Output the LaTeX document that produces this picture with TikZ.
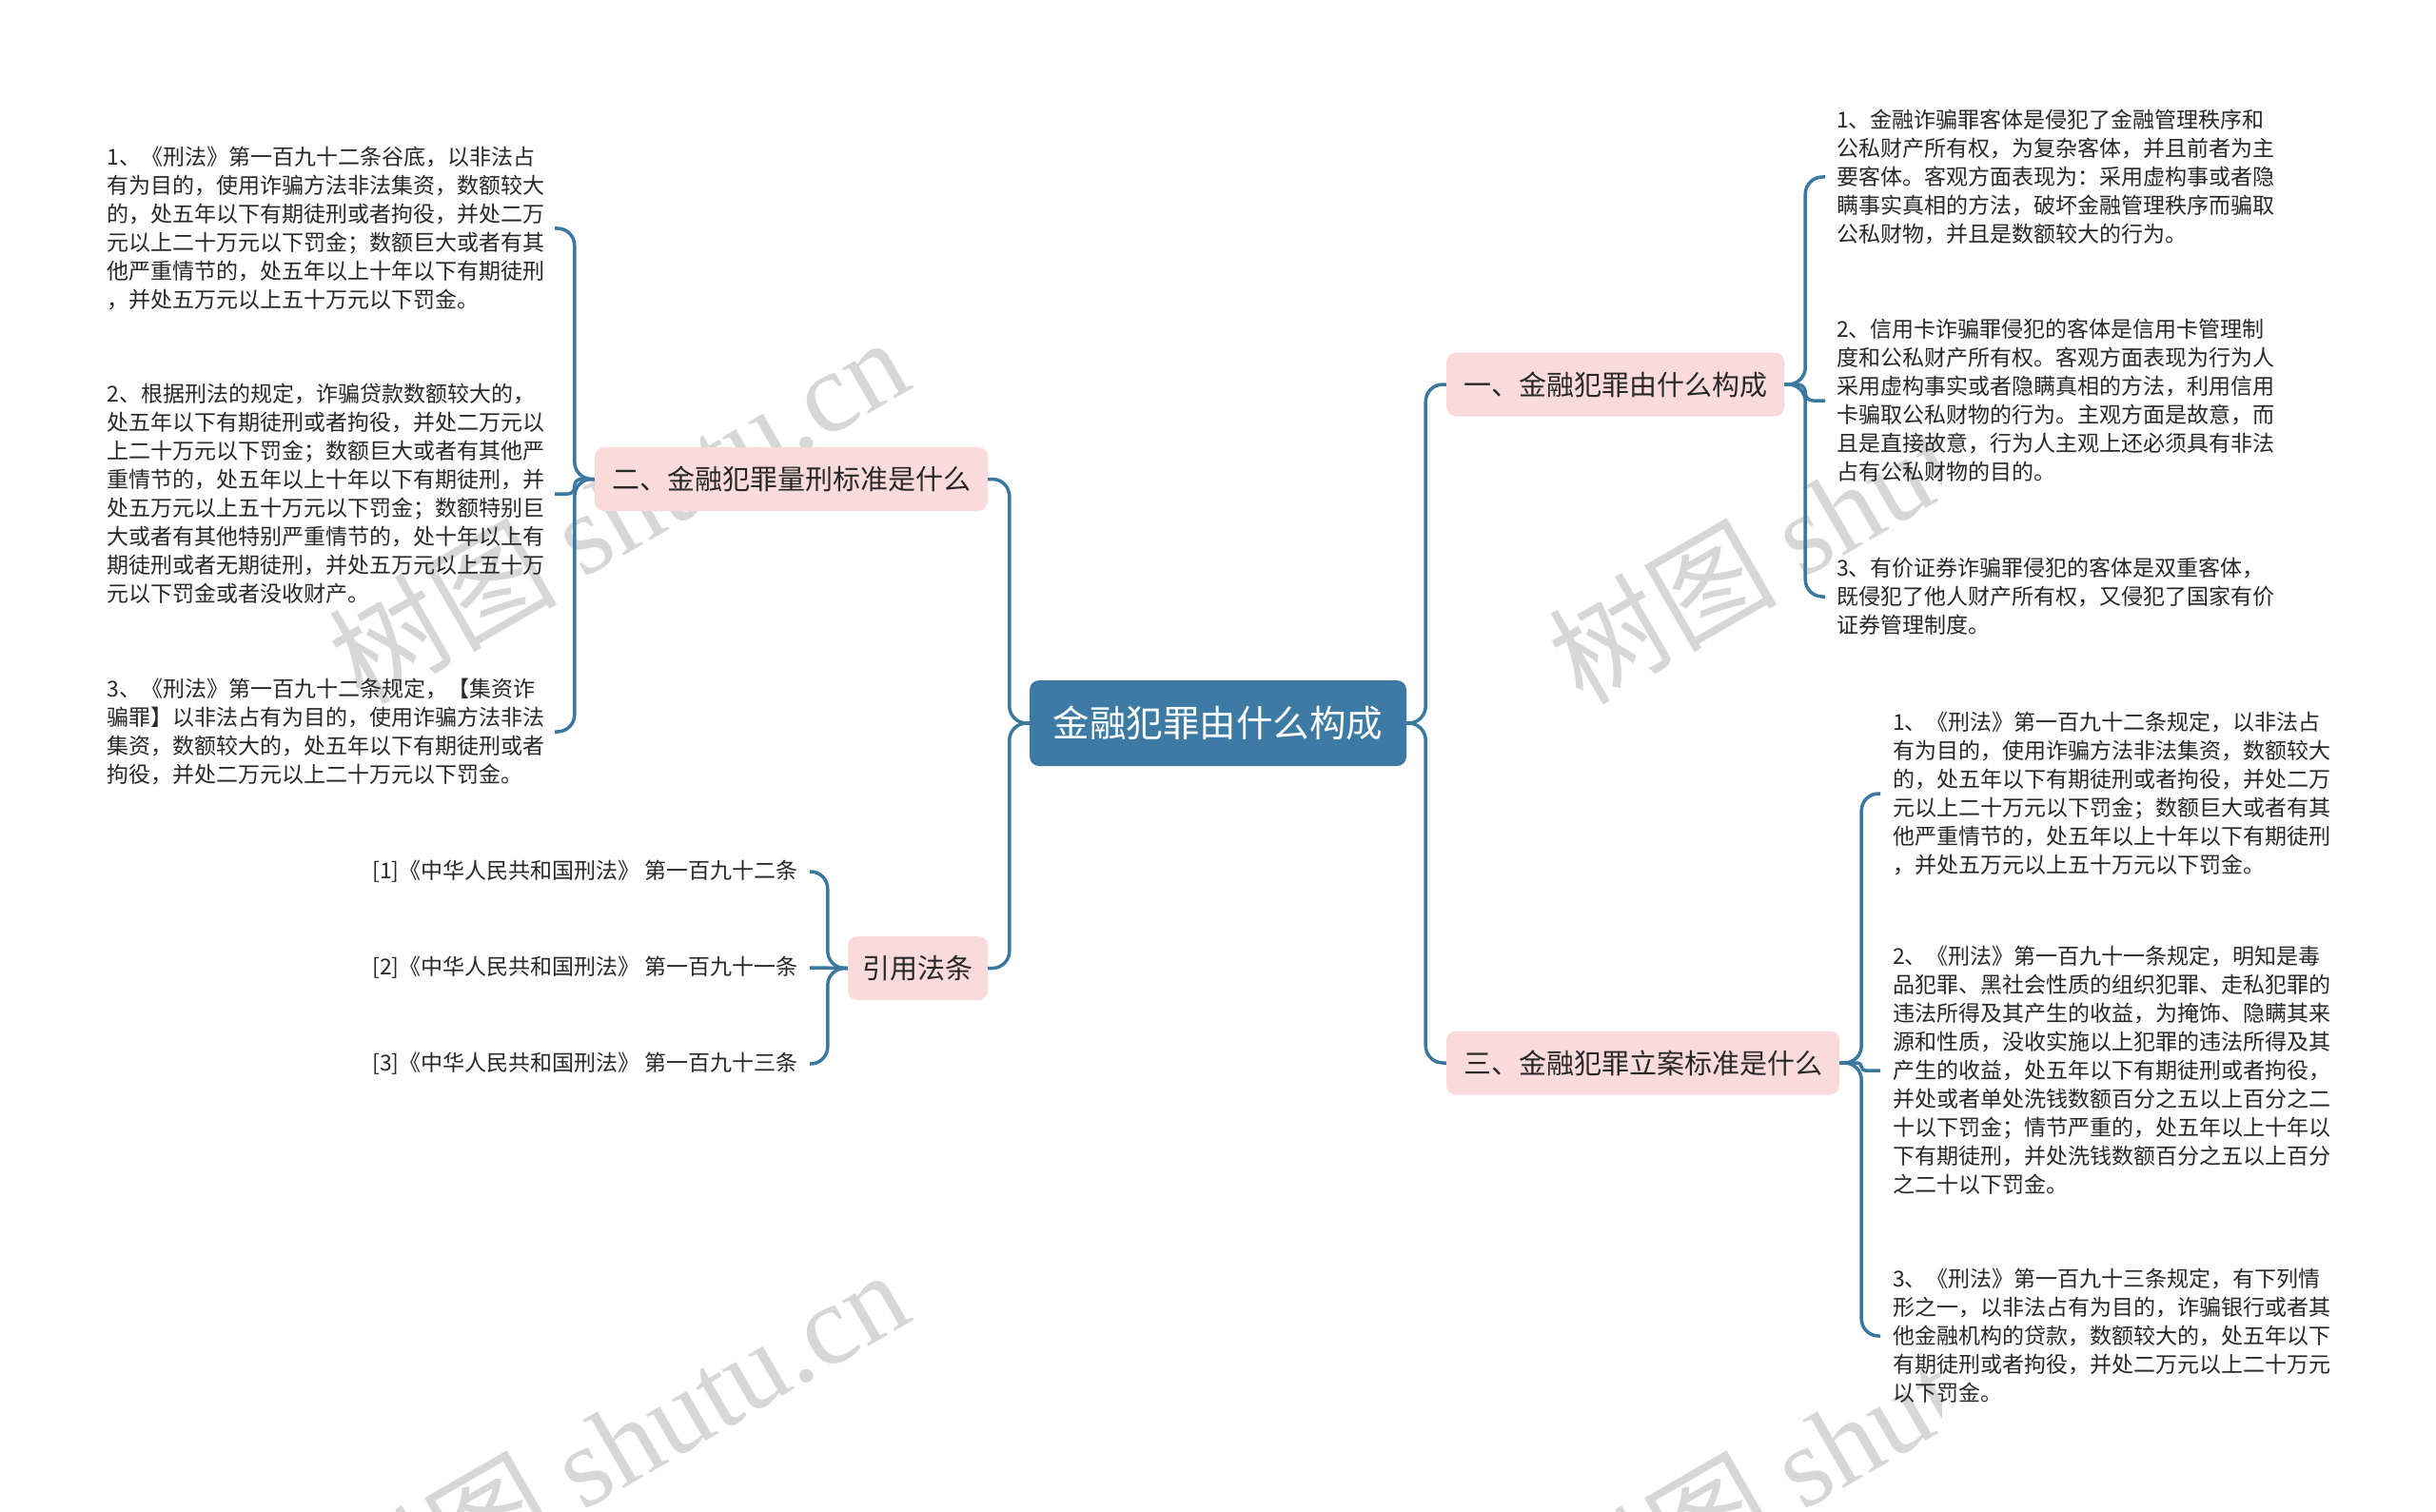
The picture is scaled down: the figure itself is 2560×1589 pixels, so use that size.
\documentclass[tikz,border=0pt]{standalone}
\usepackage{fontspec}
\setmainfont{Noto Sans CJK SC}
\newfontfamily\wmfont{Liberation Serif}
\definecolor{rootc}{RGB}{62,123,164}
\definecolor{linec}{RGB}{58,120,160}
\definecolor{pinkc}{RGB}{250,219,219}
\definecolor{txtc}{RGB}{40,40,40}
\definecolor{wmc}{RGB}{215,215,215}
\tikzset{
  conn/.style={draw=linec, line width=3.5pt, rounded corners=18pt},
  rootbox/.style={fill=rootc, rounded corners=10pt, text=white, font=\fontsize{38.5}{46}\selectfont,
    minimum width=396pt, minimum height=90pt, inner sep=0pt},
  branchbox/.style={fill=pinkc, rounded corners=10pt, text=txtc, font=\fontsize{29}{35}\selectfont,
    minimum height=67pt, inner sep=0pt},
  leafr/.style={anchor=west, align=left, inner xsep=12pt, inner ysep=0pt, text=txtc,
    font=\fontsize{23}{30}\selectfont},
  leafl/.style={anchor=east, align=left, inner xsep=10pt, inner ysep=0pt, text=txtc,
    font=\fontsize{23}{30}\selectfont},
  citebox/.style={anchor=east, inner xsep=12pt, inner ysep=0pt, text=txtc,
    font=\fontsize{23}{30}\selectfont},
  wm/.style={rotate=30, text=wmc, inner sep=0pt, font=\fontsize{120}{120}\selectfont}
}
\begin{document}
\begin{tikzpicture}[x=1pt,y=-1pt]
\useasboundingbox (0,0) rectangle (2560,1589);
\fill[white] (0,0) rectangle (2560,1589);
% watermarks
\begin{scope}
\clip (0,0) rectangle (2560,1589);
\node[wm] (w1) at (649,535) {树图 {\wmfont shutu.cn}};
\node[wm] (w3) at (649,1515) {树图 {\wmfont shutu.cn}};
\end{scope}
\begin{scope}
\clip (0,0) rectangle (2040,1589);
\node[wm] (w2) at (1931,535) {树图 {\wmfont shutu.cn}};
\node[wm] (w4) at (1931,1515) {树图 {\wmfont shutu.cn}};
\end{scope}

% main nodes
\node[rootbox] (root) at (1280,760) {金融犯罪由什么构成};
\node[branchbox, minimum width=355pt] (b1) at (1697.5,404) {一、金融犯罪由什么构成};
\node[branchbox, minimum width=413pt] (b3) at (1726.5,1117) {三、金融犯罪立案标准是什么};
\node[branchbox, minimum width=413pt] (b2) at (831.5,503.5) {二、金融犯罪量刑标准是什么};
\node[branchbox, minimum width=147pt] (b4) at (964.5,1017.5) {引用法条};

% right leaves of b1
\node[leafr] (r11) at (1918,186) {1、金融诈骗罪客体是侵犯了金融管理秩序和\\公私财产所有权，为复杂客体，并且前者为主\\要客体。客观方面表现为：采用虚构事或者隐\\瞒事实真相的方法，破坏金融管理秩序而骗取\\公私财物，并且是数额较大的行为。};
\node[leafr] (r12) at (1918,421) {2、信用卡诈骗罪侵犯的客体是信用卡管理制\\度和公私财产所有权。客观方面表现为行为人\\采用虚构事实或者隐瞒真相的方法，利用信用\\卡骗取公私财物的行为。主观方面是故意，而\\且是直接故意，行为人主观上还必须具有非法\\占有公私财物的目的。};
\node[leafr] (r13) at (1918,627) {3、有价证券诈骗罪侵犯的客体是双重客体，\\既侵犯了他人财产所有权，又侵犯了国家有价\\证券管理制度。};

% right leaves of b3
\node[leafr, inner xsep=13pt] (r31) at (1976,834) {1、《刑法》第一百九十二条规定，以非法占\\有为目的，使用诈骗方法非法集资，数额较大\\的，处五年以下有期徒刑或者拘役，并处二万\\元以上二十万元以下罚金；数额巨大或者有其\\他严重情节的，处五年以上十年以下有期徒刑\\，并处五万元以上五十万元以下罚金。};
\node[leafr, inner xsep=13pt] (r32) at (1976,1125) {2、《刑法》第一百九十一条规定，明知是毒\\品犯罪、黑社会性质的组织犯罪、走私犯罪的\\违法所得及其产生的收益，为掩饰、隐瞒其来\\源和性质，没收实施以上犯罪的违法所得及其\\产生的收益，处五年以下有期徒刑或者拘役，\\并处或者单处洗钱数额百分之五以上百分之二\\十以下罚金；情节严重的，处五年以上十年以\\下有期徒刑，并处洗钱数额百分之五以上百分\\之二十以下罚金。};
\node[leafr, inner xsep=13pt] (r33) at (1976,1404) {3、《刑法》第一百九十三条规定，有下列情\\形之一，以非法占有为目的，诈骗银行或者其\\他金融机构的贷款，数额较大的，处五年以下\\有期徒刑或者拘役，并处二万元以上二十万元\\以下罚金。};

% left leaves of b2
\node[leafl] (l21) at (583,240) {1、《刑法》第一百九十二条谷底，以非法占\\有为目的，使用诈骗方法非法集资，数额较大\\的，处五年以下有期徒刑或者拘役，并处二万\\元以上二十万元以下罚金；数额巨大或者有其\\他严重情节的，处五年以上十年以下有期徒刑\\，并处五万元以上五十万元以下罚金。};
\node[leafl] (l22) at (583,519) {2、根据刑法的规定，诈骗贷款数额较大的，\\处五年以下有期徒刑或者拘役，并处二万元以\\上二十万元以下罚金；数额巨大或者有其他严\\重情节的，处五年以上十年以下有期徒刑，并\\处五万元以上五十万元以下罚金；数额特别巨\\大或者有其他特别严重情节的，处十年以上有\\期徒刑或者无期徒刑，并处五万元以上五十万\\元以下罚金或者没收财产。};
\node[leafl] (l23) at (583,769) {3、《刑法》第一百九十二条规定，【集资诈\\骗罪】以非法占有为目的，使用诈骗方法非法\\集资，数额较大的，处五年以下有期徒刑或者\\拘役，并处二万元以上二十万元以下罚金。};

% citations
\node[citebox] (c1) at (851,916) {[1]《中华人民共和国刑法》 第一百九十二条};
\node[citebox] (c2) at (851,1017) {[2]《中华人民共和国刑法》 第一百九十一条};
\node[citebox] (c3) at (851,1118) {[3]《中华人民共和国刑法》 第一百九十三条};

% connectors root
\draw[conn] (root.east) -- ++(20,0) |- (b1.west);
\draw[conn] (root.east) -- ++(20,0) |- (b3.west);
\draw[conn] (root.west) -- ++(-21,0) |- (b2.east);
\draw[conn] (root.west) -- ++(-21,0) |- (b4.east);
% b1
\draw[conn] (b1.east) -- ++(22,0) |- (r11.west);
\draw[conn, rounded corners=8pt] (b1.east) -- ++(22,0) |- (r12.west);
\draw[conn] (b1.east) -- ++(22,0) |- (r13.west);
% b3
\draw[conn] (b3.east) -- ++(23,0) |- (r31.west);
\draw[conn, rounded corners=4pt] (b3.east) -- ++(23,0) |- (r32.west);
\draw[conn] (b3.east) -- ++(23,0) |- (r33.west);
% b2
\draw[conn] (b2.west) -- ++(-21,0) |- (l21.east);
\draw[conn, rounded corners=7pt] (b2.west) -- ++(-21,0) |- (l22.east);
\draw[conn] (b2.west) -- ++(-21,0) |- (l23.east);
% b4
\draw[conn] (b4.west) -- ++(-21,0) |- (c1.east);
\draw[conn] (b4.west) -- (c2.east);
\draw[conn] (b4.west) -- ++(-21,0) |- (c3.east);
\end{tikzpicture}
\end{document}
